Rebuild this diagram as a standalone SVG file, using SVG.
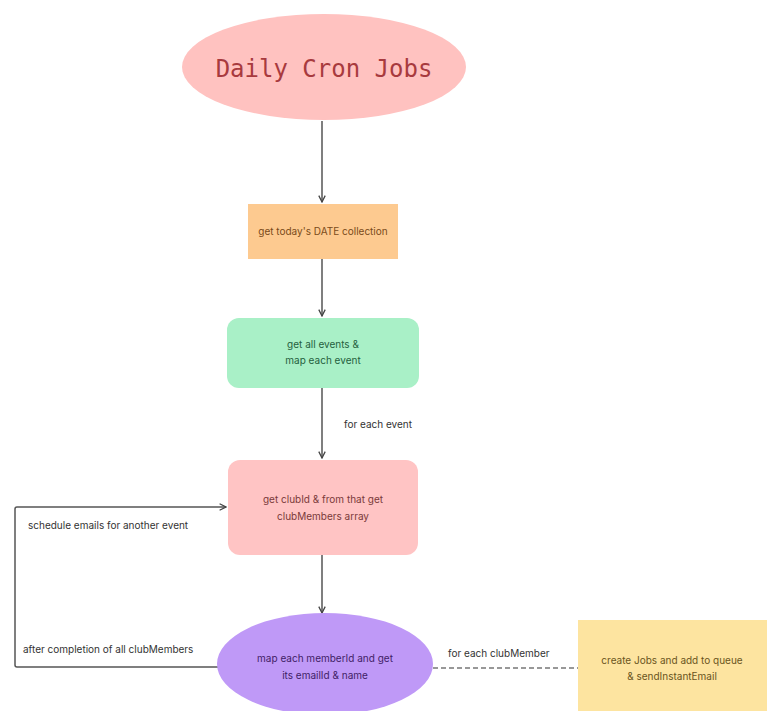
<svg xmlns="http://www.w3.org/2000/svg" width="767" height="711" viewBox="0 0 767 711">
<style>
  .lbl{font-family:Inter,"Liberation Sans",sans-serif;font-size:10px;text-anchor:middle}
  .edge{stroke:#555;stroke-width:1.5;fill:none}
  .elbl{font-family:Inter,"Liberation Sans",sans-serif;font-size:10px;fill:#333}
</style>
<defs>
  <marker id="arr" viewBox="0 0 10 10" refX="9" refY="5" markerWidth="8" markerHeight="8" orient="auto" markerUnits="userSpaceOnUse">
    <path d="M1,1 L9,5 L1,9" fill="none" stroke="#444" stroke-width="1.6"/>
  </marker>
</defs>
<rect width="767" height="711" fill="#ffffff"/>
<g id="connectors">
  <line class="edge" x1="322" y1="121" x2="322" y2="202" marker-end="url(#arr)"/>
  <line class="edge" x1="322" y1="259" x2="322" y2="316" marker-end="url(#arr)"/>
  <line class="edge" x1="322" y1="388" x2="322" y2="458" marker-end="url(#arr)"/>
  <line class="edge" x1="322" y1="555" x2="322" y2="613" marker-end="url(#arr)"/>
  <path class="edge" d="M218,667 L17,667 Q15,667 15,665 L15,509 Q15,507 17,507 L226,507" marker-end="url(#arr)"/>
  <line x1="433" y1="668" x2="578" y2="668" stroke="#777" stroke-width="1.5" stroke-dasharray="5,3"/>
  <text class="elbl" x="344" y="428">for each event</text>
  <text class="elbl" x="28" y="529">schedule emails for another event</text>
  <text class="elbl" x="23" y="653">after completion of all clubMembers</text>
  <text class="elbl" x="448" y="657">for each clubMember</text>
</g>
<g id="daily-cron-jobs">
  <ellipse cx="324" cy="67" rx="142" ry="53" fill="#ffc2c0"/>
  <text x="324" y="77" text-anchor="middle" font-family="'DejaVu Sans Mono','Liberation Mono',monospace" font-size="24" fill="#a83a3e">Daily Cron Jobs</text>
</g>
<g id="get-date">
  <rect x="248" y="204" width="150" height="55" fill="#fdca90"/>
  <text class="lbl" x="323" y="235" fill="#7a4a1a">get today's DATE collection</text>
</g>
<g id="get-events">
  <rect x="227" y="318" width="192" height="70" rx="12" fill="#a9f0c7"/>
  <text class="lbl" x="323" y="348" fill="#25603e">get all events &amp;</text>
  <text class="lbl" x="323" y="364" fill="#25603e">map each event</text>
</g>
<g id="get-club">
  <rect x="228" y="460" width="190" height="95" rx="12" fill="#ffc4c4"/>
  <text class="lbl" x="323" y="503" fill="#7a3a3a">get clubId &amp; from that get</text>
  <text class="lbl" x="323" y="520" fill="#7a3a3a">clubMembers array</text>
</g>
<g id="map-members">
  <ellipse cx="325" cy="664" rx="108" ry="51" fill="#bf99f7"/>
  <text class="lbl" x="325" y="662" fill="#3f2166">map each memberId and get</text>
  <text class="lbl" x="325" y="679" fill="#3f2166">its emailId &amp; name</text>
</g>
<g id="create-jobs">
  <rect x="578" y="620" width="189" height="91" fill="#fde4a0"/>
  <text class="lbl" x="672" y="664" fill="#6a5420">create Jobs and add to queue</text>
  <text class="lbl" x="672" y="680" fill="#6a5420">&amp; sendInstantEmail</text>
</g>
</svg>
